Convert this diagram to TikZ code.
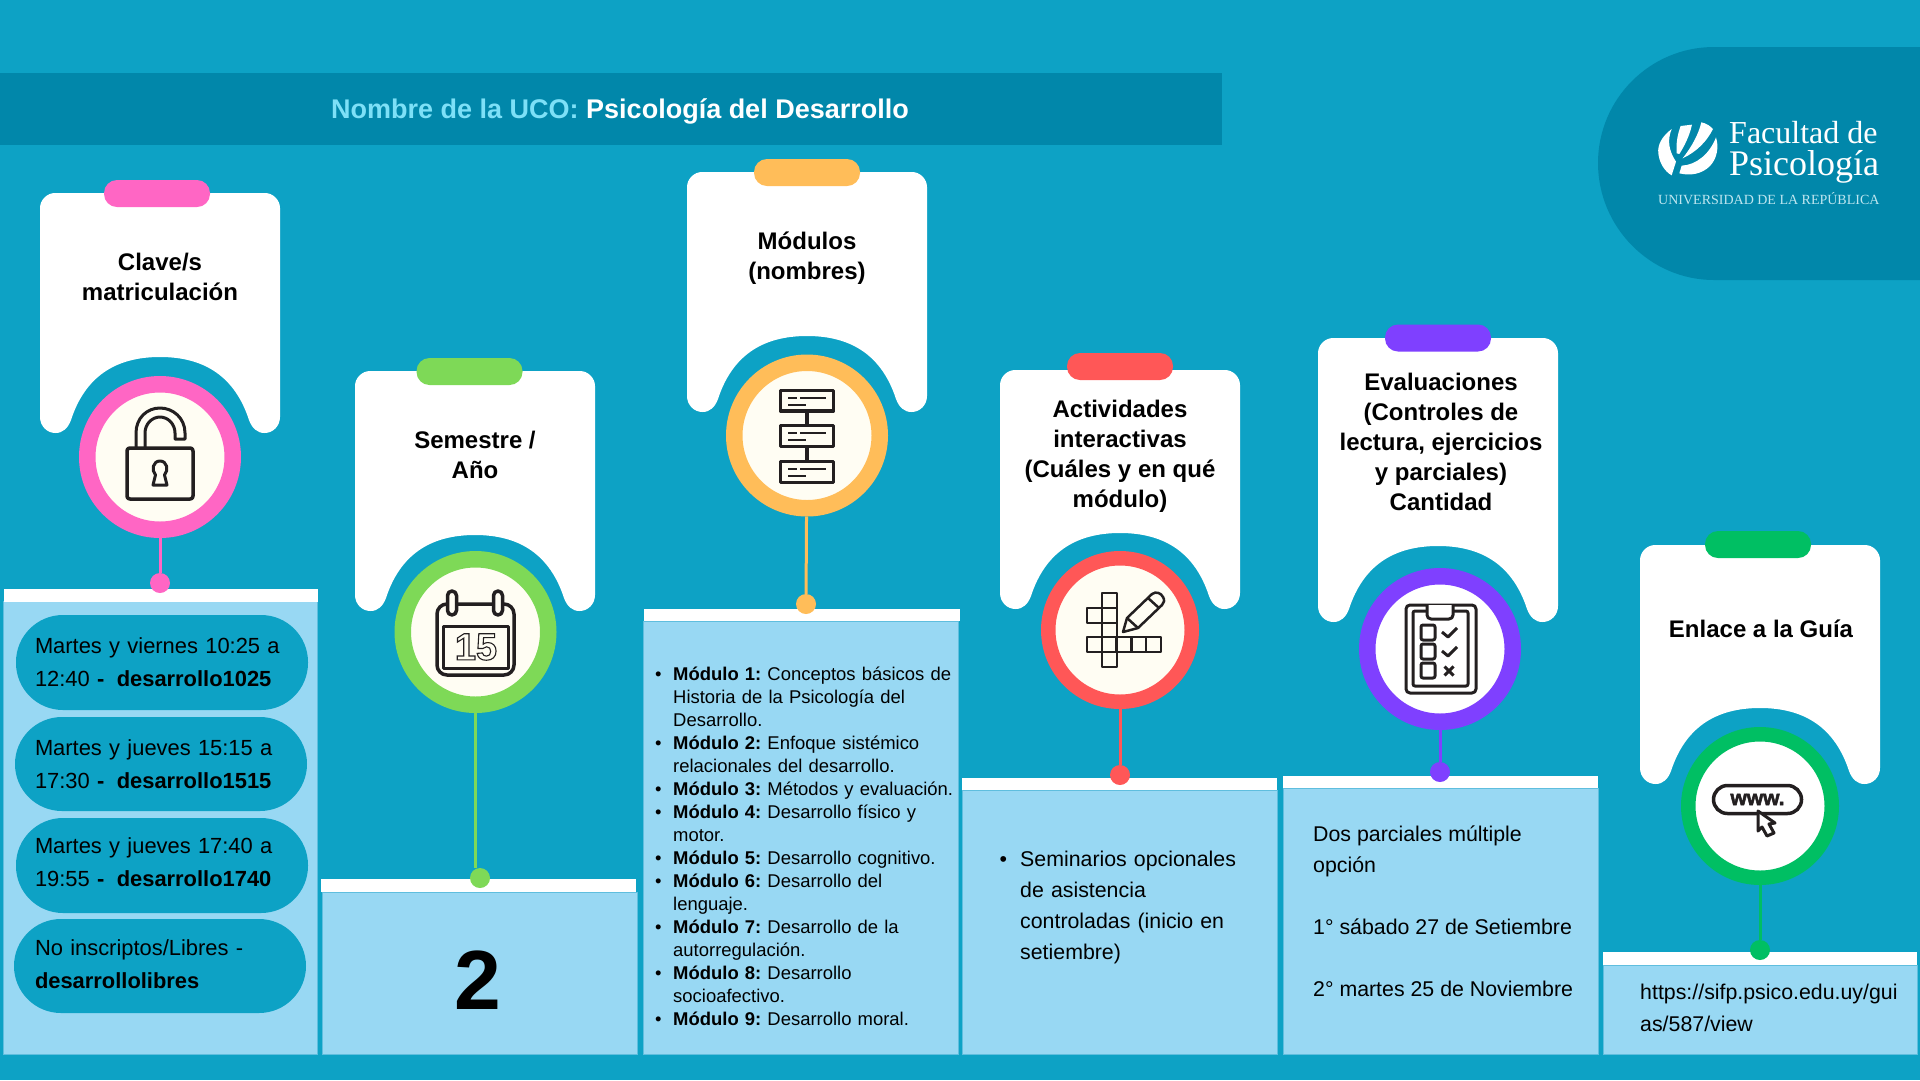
\documentclass[tikz,border=0pt]{standalone}
\usepackage{fontspec}
\setmainfont{Liberation Sans}
\newfontfamily\logofont{Liberation Serif}
\frenchspacing
\definecolor{fondo}{RGB}{13, 162, 197}
\definecolor{banda}{RGB}{1, 135, 170}
\definecolor{celeste}{RGB}{152, 216, 243}
\definecolor{bordepanel}{RGB}{95, 190, 222}
\definecolor{rosa}{RGB}{255, 102, 196}
\definecolor{verde}{RGB}{126, 217, 87}
\definecolor{naranja}{RGB}{255, 189, 89}
\definecolor{rojo}{RGB}{255, 87, 87}
\definecolor{violeta}{RGB}{127, 64, 255}
\definecolor{esmeralda}{RGB}{0, 191, 99}
\definecolor{crema}{RGB}{255, 253, 243}
\definecolor{tinta}{RGB}{35, 31, 32}
\definecolor{titulouco}{RGB}{125, 224, 247}
\definecolor{lema}{RGB}{190, 230, 240}
\usetikzlibrary{positioning,calc}

\tikzset{
    ring/.style={circle, draw=#1, fill=crema, line width=16.5pt, minimum size=145.5pt, inner sep=0pt},
    thinring/.style={circle, draw=#1, fill=white, line width=14.5pt, minimum size=143.5pt, inner sep=0pt},
    pin/.style={circle, fill=#1, minimum size=20pt, inner sep=0pt},
    stem/.style={draw=#1, line width=3pt},
    tab/.style={rounded corners=13pt, fill=#1, minimum width=106pt, minimum height=27pt, inner sep=0pt},
    cardtitle/.style={font=\fontsize{24}{30}\selectfont\bfseries, align=center, inner sep=0pt},
    panel/.style={fill=celeste, draw=bordepanel, line width=0.8pt},
    topbar/.style={fill=white},
    pill/.style={rounded corners=47pt, fill=fondo, inner sep=0pt, align=left,
        font=\fontsize{21.9}{33}\selectfont},
    paneltext/.style={anchor=north west, inner sep=0pt, align=left,
        font=\fontsize{21.33}{31}\selectfont},
    icon/.style={draw=tinta, line width=#1, line join=round},
    icon/.default=3.5pt
}

\newcommand{\clipcard}[4]{%
    \fill[white] (#1,{#2+15}) .. controls (#1,{#2+7}) and ({#1+7},#2) .. ({#1+15},#2)
        -- ({#1+225},#2) .. controls ({#1+233},#2) and ({#1+240},{#2+7}) .. ({#1+240},{#2+15})
        -- ({#1+240},{#3-16}) .. controls ({#1+240},{#3-7}) and ({#1+233},#3) .. ({#1+224.5},#3)
        .. controls ({#1+217},#3) and ({#1+212},{#3-5}) .. ({#1+209},{#3-13})
        .. controls ({#1+195},{#4+20}) and ({#1+165},#4) .. ({#1+120},#4)
        .. controls ({#1+75},#4) and ({#1+45},{#4+20}) .. ({#1+31},{#3-13})
        .. controls ({#1+28},{#3-5}) and ({#1+23},#3) .. ({#1+15.5},#3)
        .. controls ({#1+7},#3) and (#1,{#3-7}) .. (#1,{#3-16}) -- cycle;
}

\begin{document}
\begin{tikzpicture}[x=1pt, y=-1pt]
    \useasboundingbox (0,0) rectangle (1920,1080);
    \fill[fondo] (0,0) rectangle (1920,1080);

    \fill[banda] (0,73) rectangle (1222,145);
    \node[font=\fontsize{27}{30}\selectfont\bfseries, inner sep=0pt] (uco) at (620,111.5)
        {\textcolor{titulouco}{Nombre de la UCO:} \textcolor{white}{Psicología del Desarrollo}};

    \fill[banda] (1920,47) -- (1714,47) .. controls (1650,47) and (1598,99) .. (1598,163)
        .. controls (1598,227) and (1650,280) .. (1714,280) -- (1920,280) -- cycle;
    \begin{scope}[shift={(1560,30)}, x=0.3333pt, y=-0.3333pt]
        \fill[white] (335,297) .. controls (305,320) and (292,345) .. (295,370) .. controls (298,400) and (315,425) .. (335,436) -- (348,395) .. controls (325,360) and (322,330) .. (335,297) -- cycle;
        \fill[white] (362,288) -- (396,284) .. controls (388,320) and (372,350) .. (358,372) -- (350,370) .. controls (348,340) and (352,315) .. (362,288) -- cycle;
        \fill[white] (424,277) .. controls (440,280) and (450,288) .. (459,297) .. controls (440,335) and (410,365) .. (368,385) .. controls (395,350) and (415,315) .. (424,277) -- cycle;
        \fill[white] (468,322) .. controls (477,350) and (472,385) .. (450,408) .. controls (425,433) and (390,438) .. (358,430) -- (365,407) .. controls (410,405) and (450,370) .. (468,322) -- cycle;
    \end{scope}
    \node[anchor=base west, inner sep=0pt, text=white, font=\logofont\fontsize{32}{32}\selectfont] (facultad) at (1729,143) {Facultad de};
    \node[anchor=base west, inner sep=0pt, text=white, font=\logofont\fontsize{36}{36}\selectfont] (psico) at (1729,175) {Psicología};
    \node[anchor=base west, inner sep=0pt, text=lema, font=\logofont\fontsize{14}{14}\selectfont] (udelar) at (1658,204) {UNIVERSIDAD DE LA REPÚBLICA};

    \clipcard{40}{193}{433}{357}
    \clipcard{355}{371}{611}{535}
    \clipcard{687}{172}{412}{336}
    \clipcard{1000}{370}{609}{533}
    \clipcard{1318}{338}{622}{546}
    \clipcard{1640}{545}{784}{708}

    \node[tab=rosa] (tabclave) at (157,193.5) {};
    \node[tab=verde] (tabsem) at (469.5,371.5) {};
    \node[tab=naranja] (tabmod) at (807,172.5) {};
    \node[tab=rojo] (tabact) at (1120,366.5) {};
    \node[tab=violeta] (tabeval) at (1438,338) {};
    \node[tab=esmeralda] (tabguia) at (1758,544.5) {};

    \node[cardtitle] (titclave) at (160,276.5) {Clave/s\\matriculación};
    \node[cardtitle] (titsem) at (475,455) {Semestre /\\Año};
    \node[cardtitle] (titmod) at (807,258) {Módulos\\(nombres)};
    \node[cardtitle] (titact) at (1120,456) {Actividades\\interactivas\\(Cuáles y en qué\\módulo)};
    \node[cardtitle] (titeval) at (1441,441.5) {Evaluaciones\\(Controles de\\lectura, ejercicios\\y parciales)\\Cantidad};
    \node[cardtitle] (titguia) at (1761,629) {Enlace a la Guía};

    \fill[panel] (3,601) rectangle (317,1054);
    \fill[panel] (322,892) rectangle (637,1054);
    \fill[panel] (643,621) rectangle (958,1054);
    \fill[panel] (962,790) rectangle (1277,1054);
    \fill[panel] (1283,788) rectangle (1598,1054);
    \fill[panel] (1603,965) rectangle (1917,1054);
    \fill[topbar] (4,589) rectangle (318,602);
    \fill[topbar] (321,879) rectangle (636,892);
    \fill[topbar] (644,609) rectangle (960,621);
    \fill[topbar] (962,778) rectangle (1277,790);
    \fill[topbar] (1283,776) rectangle (1598,788);
    \fill[topbar] (1603,952) rectangle (1917,965);

    \node[ring=rosa] (ringclave) at (160,457) {};
    \node[ring=verde] (ringsem) at (475.5,632) {};
    \node[ring=naranja] (ringmod) at (807,435.5) {};
    \node[thinring=rojo, fill=crema] (ringact) at (1120,630) {};
    \node[ring=violeta, fill=white] (ringeval) at (1440,649) {};
    \node[thinring=esmeralda] (ringguia) at (1760,806) {};

    \node[pin=rosa] (pinclave) at (160,583) {};
    \node[pin=verde] (pinsem) at (480,878) {};
    \node[pin=naranja] (pinmod) at (806,604) {};
    \node[pin=rojo] (pinact) at (1120,775) {};
    \node[pin=violeta] (pineval) at (1440,772) {};
    \node[pin=esmeralda] (pinguia) at (1760,950) {};

    \draw[stem=rosa] (ringclave) -- (pinclave);
    \draw[stem=verde] (ringsem.south) -- (ringsem.south |- pinsem.north);
    \draw[stem=naranja] (ringmod) -- (pinmod);
    \draw[stem=rojo] (ringact) -- (pinact);
    \draw[stem=violeta] (ringeval) -- (pineval);
    \draw[stem=esmeralda] (ringguia) -- (pinguia);

    \draw[icon] (127,451) .. controls (127,449) and (128,448) .. (130,448) -- (190,448) .. controls (192,448) and (193,449) .. (193,451) -- (193,496) .. controls (193,498) and (192,499) .. (190,499) -- (130,499) .. controls (128,499) and (127,498) .. (127,496) -- cycle;
    \draw[icon=3pt] (136,448) -- (136,433) .. controls (136,418) and (147,408) .. (160,408) .. controls (173,408) and (185,418) .. (185,433) -- (185,439) -- (175,439) -- (175,433) .. controls (175,424) and (168,417) .. (160,417) .. controls (152,417) and (145,424) .. (145,433) -- (145,448);
    \draw[icon=3pt] (155.5,475) .. controls (151,470) and (153,461) .. (160,461) .. controls (167,461) and (169,470) .. (164.5,475) -- (167,485) -- (153,485) -- cycle;

    \draw[icon, rounded corners=10pt] (437,604) rectangle (514,675);
    \draw[icon, fill=crema, rounded corners=4.5pt] (447.5,591) rectangle (456.5,615);
    \draw[icon, fill=crema, rounded corners=4.5pt] (493.5,591) rectangle (502.5,615);
    \draw[icon=3pt] (443,626) rectangle (508,668);
    \node[inner sep=0pt, text=tinta, font=\fontsize{38}{38}\selectfont\bfseries] (quince) at (476,647)
        {\special{pdf:code 1 Tr 1.1 w}15\special{pdf:code 0 Tr}};

    \draw[icon] (780.5,390.5) rectangle (833.5,411);
    \draw[icon] (780.5,425.5) rectangle (833.5,446.5);
    \draw[icon] (780.5,461.5) rectangle (833.5,482.5);
    \draw[icon] (807,411) -- (807,425.5);
    \draw[icon] (807,446.5) -- (807,461.5);
    \foreach \ypos in {398,433,469} {
        \draw[icon=2pt] (788,\ypos) -- (797,\ypos);
        \draw[icon=2pt] (800,\ypos) -- (826,\ypos);
        \draw[icon=2pt] (788,\ypos+6.5) -- (806,\ypos+6.5);
    }

    \draw[icon=2.5pt] (1102,593) rectangle (1117,667);
    \draw[icon=2.5pt] (1087,608) rectangle (1102,623);
    \draw[icon=2.5pt] (1087,637) rectangle (1161,652);
    \draw[icon=2.5pt] (1102,608) -- (1117,608) (1102,623) -- (1117,623) (1102,637) -- (1117,637) (1102,652) -- (1117,652);
    \draw[icon=2.5pt] (1131.5,637) -- (1131.5,652) (1146,637) -- (1146,652) (1116.5,637) -- (1116.5,652);
    \draw[icon=2.5pt] (1123,632) -- (1127,618) -- (1152,594) .. controls (1156,591) and (1161,593) .. (1163,597) .. controls (1165,600) and (1164,603) .. (1162,605) -- (1138,628) -- cycle;
    \draw[icon=2.5pt] (1127,618) -- (1138,628) (1148,598) -- (1159,608);

    \draw[icon=3pt, rounded corners=4pt] (1406,605) rectangle (1476,693);
    \draw[icon=3pt, rounded corners=2pt] (1413,611) rectangle (1468,686);
    \draw[icon=3pt, fill=white, rounded corners=4pt] (1427,605) -- (1427,619) -- (1453,619) -- (1453,605);
    \draw[icon=3pt, rounded corners=2pt] (1421,625) rectangle (1435,640);
    \draw[icon=3pt, rounded corners=2pt] (1421,644) rectangle (1435,659);
    \draw[icon=3pt, rounded corners=2pt] (1421,663) rectangle (1435,678);
    \draw[icon=3pt] (1442,632) -- (1448,637) -- (1457,628);
    \draw[icon=3pt] (1442,651) -- (1448,656) -- (1457,647);
    \draw[icon=3pt] (1444.5,666.5) -- (1453.5,675.5) (1444.5,675.5) -- (1453.5,666.5);

    \node[draw=tinta, line width=3.5pt, rounded corners=14pt, minimum width=88pt, minimum height=28pt,
        inner sep=0pt, text=tinta, font=\fontsize{21}{21}\selectfont\bfseries] (www) at (1757.5,799.5)
        {\special{pdf:code 2 Tr 0.5 w}www.\special{pdf:code 0 Tr}};
    \draw[icon=3pt, fill=white] (1758,811) -- (1758,831) -- (1762,827) -- (1767,836) -- (1774,833) -- (1769,824) -- (1775,823) -- cycle;

    \node[pill, minimum width=292pt, minimum height=95pt, text width=254pt] (h1025) at (162,662.5)
        {Martes y viernes 10:25 a\\12:40 \textbf{-\hspace{12.4pt}desarrollo1025}};
    \node[pill, minimum width=292pt, minimum height=94pt, text width=252pt] (h1515) at (161,764)
        {Martes y jueves 15:15 a\\17:30 \textbf{-\hspace{12.4pt}desarrollo1515}};
    \node[pill, minimum width=292pt, minimum height=95pt, text width=254pt, text depth=40pt] (h1740) at (162,865.5)
        {Martes y jueves 17:40 a\\19:55 \textbf{-\hspace{12.4pt}desarrollo1740}};
    \node[pill, minimum width=292pt, minimum height=94pt, text width=250pt, text depth=37pt] (hlibres) at (160,966)
        {No inscriptos/Libres -\\\textbf{desarrollolibres}};

    \node[font=\fontsize{84}{84}\selectfont\bfseries, inner sep=0pt] (semestre) at (478,980) {2};

    \node[paneltext, font=\fontsize{18.45}{23}\selectfont, text width=320pt] (modulos) at (650,649) {%
        \setlength\leftmargini{23pt}\setlength\labelsep{11.7pt}%
        \begin{itemize}\setlength\itemsep{0pt}\setlength\parsep{0pt}\setlength\parskip{0pt}
            \item \textbf{Módulo 1:} Conceptos básicos de\newline Historia de la Psicología del\newline Desarrollo.
            \item \textbf{Módulo 2:} Enfoque sistémico\newline relacionales del desarrollo.
            \item \textbf{Módulo 3:} Métodos y evaluación.
            \item \textbf{Módulo 4:} Desarrollo físico y\newline motor.
            \item \textbf{Módulo 5:} Desarrollo cognitivo.
            \item \textbf{Módulo 6:} Desarrollo del\newline lenguaje.
            \item \textbf{Módulo 7:} Desarrollo de la\newline autorregulación.
            \item \textbf{Módulo 8:} Desarrollo\newline socioafectivo.
            \item \textbf{Módulo 9:} Desarrollo moral.
        \end{itemize}};

    \node[paneltext, text width=270pt] (seminarios) at (1000,827) {%
        \setlength\leftmargini{20pt}\setlength\labelsep{13pt}%
        \begin{itemize}\setlength\itemsep{0pt}\setlength\parsep{0pt}\setlength\parskip{0pt}
            \item Seminarios opcionales\newline de asistencia\newline controladas (inicio en\newline setiembre)
        \end{itemize}};

    \node[paneltext] (parciales) at (1313,826) {Dos parciales múltiple\\opción\\[31pt]1° sábado 27 de Setiembre\\[31pt]2° martes 25 de Noviembre};

    \node[paneltext, font=\fontsize{21.33}{32}\selectfont] (enlace) at (1640,984) {https://sifp.psico.edu.uy/gui\\as/587/view};
\end{tikzpicture}
\end{document}
